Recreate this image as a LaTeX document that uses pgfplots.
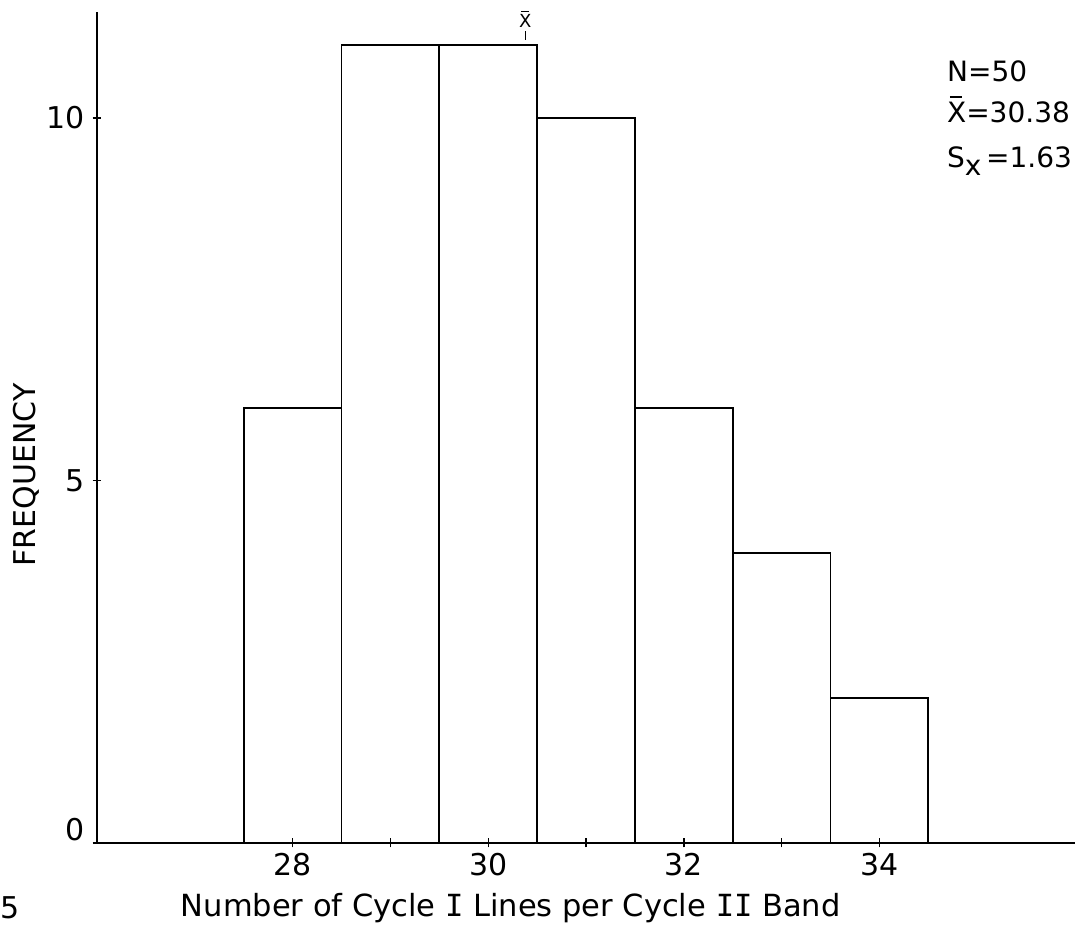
\documentclass[border=0pt]{standalone}
\usepackage{pgfplots}
\pgfplotsset{compat=1.18}
\usepackage{fontspec}
\setmainfont{DejaVu Sans}
\newfontfamily\monofont{DejaVu Sans Mono}
\newcommand{\serifI}{{\monofont I}}
\newcommand{\xbar}{\rlap{\hspace{0.1em}\raisebox{0.86em}{\rule{0.45em}{0.07em}}}X}
\begin{document}
\begin{tikzpicture}
\begin{axis}[
  width=978pt, height=831pt, scale only axis,
  xmin=26, xmax=36, ymin=0, ymax=11.46,
  axis x line*=bottom, axis y line*=left,
  axis line style={-, line width=1.8pt},
  clip=false,
  xtick={28,29,30,31,32,33,34},
  xticklabels={28,,30,,32,,34},
  ytick={5,10},
  extra y ticks={0},
  extra y tick style={yticklabel style={yshift=13pt}},
  major tick length=9pt, tick align=center,
  tick style={line width=1.4pt, black},
  /pgf/number format/assume math mode=true,
  tick label style={font=\fontsize{30}{36}\selectfont},
  xticklabel style={yshift=-2pt},
  yticklabel style={xshift=-4pt},
]
\addplot[ybar interval, draw=black, fill=none, /tikz/line width=1.8pt]
  coordinates {(27.5,6) (28.5,11) (29.5,11) (30.5,10) (31.5,6) (32.5,4) (33.5,2) (34.5,2)};
\coordinate (O) at (rel axis cs:0,0);
\coordinate (TR) at (rel axis cs:1,1);
\draw[line width=1.4pt] (axis cs:30.38,11.08) -- (axis cs:30.38,11.2);
\node[anchor=base, inner sep=0pt, font=\fontsize{18}{20}\selectfont] at (axis cs:30.38,11.24) {\xbar};
\node[anchor=base west, inner sep=0pt, font=\fontsize{28}{34}\selectfont] at (axis cs:34.69,10.50) {N=50};
\node[anchor=base west, inner sep=0pt, font=\fontsize{28}{34}\selectfont] at (axis cs:34.69,9.94) {\xbar=30.38};
\node[anchor=base west, inner sep=0pt, font=\fontsize{28}{34}\selectfont] at (axis cs:34.69,9.32) {S\raisebox{-0.3em}{x}\,=1.63};
\node[font=\fontsize{30}{36}\selectfont, rotate=90] at (axis description cs:-0.072,0.443) {FREQUENCY};
\node[font=\fontsize{30.5}{36}\selectfont] at (axis description cs:0.423,-0.078) {Number of Cycle \serifI{} Lines per Cycle \serifI\serifI{} Band};
\node[font=\fontsize{30}{36}\selectfont, anchor=west, inner sep=0pt] at (axis description cs:-0.099,-0.078) {5};
\end{axis}
\pgfresetboundingbox
\path[use as bounding box] ([shift={(-97pt,-98pt)}]O) rectangle ([shift={(6pt,12pt)}]TR);
\end{tikzpicture}
\end{document}
